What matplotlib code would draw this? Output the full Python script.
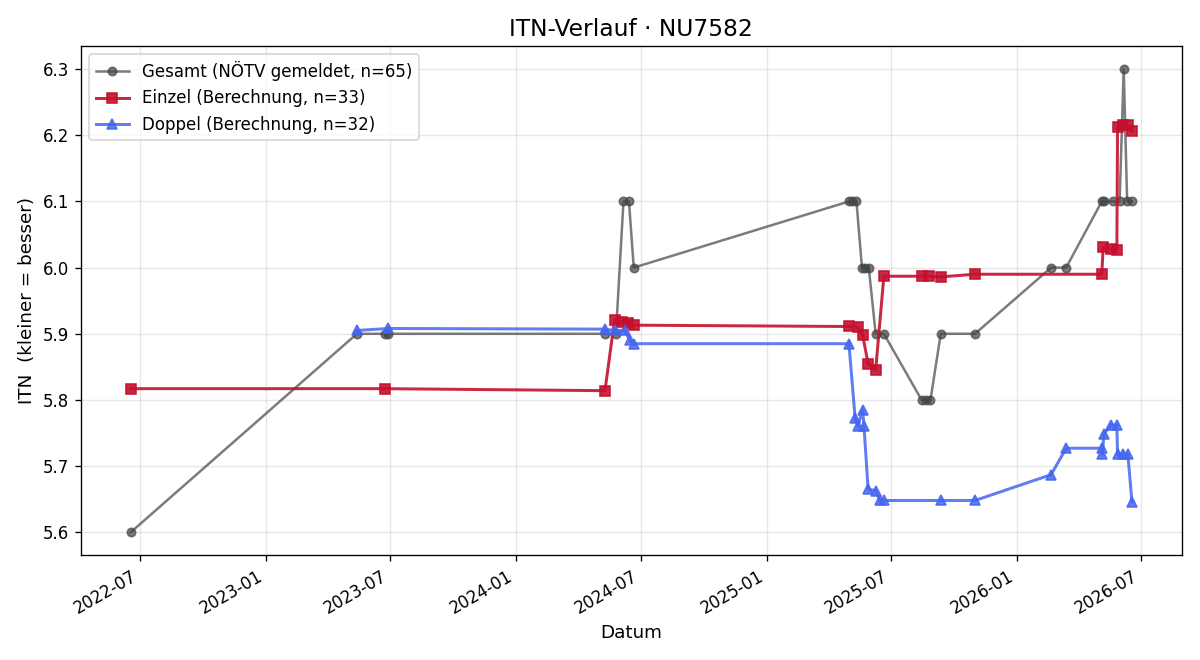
import matplotlib
matplotlib.use("Agg")
import matplotlib.pyplot as plt
import matplotlib.dates as mdates
import pandas as pd

# Gesamt (NÖTV gemeldet)
gesamt_dates = ["2022-06-18", "2023-05-14", "2023-06-24", "2023-06-29", "2024-05-10",
                "2024-05-26", "2024-06-06", "2024-06-14", "2024-06-21", "2025-05-01",
                "2025-05-05", "2025-05-12", "2025-05-20", "2025-05-25", "2025-05-30",
                "2025-06-09", "2025-06-21", "2025-08-15", "2025-08-22", "2025-08-28",
                "2025-09-12", "2025-11-01", "2026-02-20", "2026-03-14", "2026-05-05",
                "2026-05-08", "2026-05-21", "2026-05-31", "2026-06-06", "2026-06-11",
                "2026-06-18"]
gesamt_itn = [5.6, 5.9, 5.9, 5.9, 5.9,
              5.9, 6.1, 6.1, 6.0, 6.1,
              6.1, 6.1, 6.0, 6.0, 6.0,
              5.9, 5.9, 5.8, 5.8, 5.8,
              5.9, 5.9, 6.0, 6.0, 6.1,
              6.1, 6.1, 6.1, 6.3, 6.1,
              6.1]

# Einzel (Berechnung)
einzel_dates = ["2022-06-18", "2023-06-24", "2024-05-10", "2024-05-24", "2024-06-04",
                "2024-06-12", "2024-06-21", "2025-05-01", "2025-05-14", "2025-05-21",
                "2025-05-29", "2025-06-09", "2025-06-21", "2025-08-15", "2025-08-26",
                "2025-09-12", "2025-11-01", "2026-05-05", "2026-05-07", "2026-05-18",
                "2026-05-27", "2026-05-28", "2026-06-05", "2026-06-12", "2026-06-18"]
einzel_itn = [5.817, 5.817, 5.814, 5.921, 5.918,
              5.916, 5.913, 5.911, 5.910, 5.898,
              5.855, 5.845, 5.987, 5.987, 5.987,
              5.986, 5.990, 5.990, 6.031, 6.028,
              6.027, 6.212, 6.215, 6.215, 6.206]

# Doppel (Berechnung)
doppel_dates = ["2023-05-14", "2023-06-29", "2024-05-10", "2024-05-24", "2024-06-08",
                "2024-06-15", "2024-06-21", "2025-05-01", "2025-05-10", "2025-05-14",
                "2025-05-21", "2025-05-23", "2025-05-29", "2025-06-09", "2025-06-15",
                "2025-06-21", "2025-09-12", "2025-11-01", "2026-02-20", "2026-03-14",
                "2026-05-05", "2026-05-06", "2026-05-08", "2026-05-18", "2026-05-27",
                "2026-05-28", "2026-06-05", "2026-06-12", "2026-06-18"]
doppel_itn = [5.905, 5.908, 5.907, 5.905, 5.905,
              5.890, 5.885, 5.885, 5.773, 5.760,
              5.785, 5.760, 5.665, 5.663, 5.648,
              5.648, 5.648, 5.648, 5.687, 5.727,
              5.727, 5.718, 5.748, 5.762, 5.762,
              5.718, 5.718, 5.718, 5.646]

fig, ax = plt.subplots(figsize=(10, 5.5), dpi=120)

ax.plot(pd.to_datetime(gesamt_dates), gesamt_itn, color="#444444", alpha=0.7,
        marker="o", markersize=5, linewidth=1.5, label="Gesamt (NÖTV gemeldet, n=65)")
ax.plot(pd.to_datetime(einzel_dates), einzel_itn, color="#c4102e", alpha=0.9,
        marker="s", markersize=6, linewidth=1.8, label="Einzel (Berechnung, n=33)")
ax.plot(pd.to_datetime(doppel_dates), doppel_itn, color="#4466f0", alpha=0.85,
        marker="^", markersize=6, linewidth=1.8, label="Doppel (Berechnung, n=32)")

ax.set_title("ITN-Verlauf · NU7582", fontsize=14)
ax.set_xlabel("Datum", fontsize=11)
ax.set_ylabel("ITN  (kleiner = besser)", fontsize=11)
ax.grid(True, alpha=0.3)
ax.legend(loc="upper left", fontsize=10)

ax.xaxis.set_major_locator(mdates.MonthLocator(bymonth=[1, 7]))
ax.xaxis.set_major_formatter(mdates.DateFormatter("%Y-%m"))
fig.autofmt_xdate()

fig.tight_layout()
fig.savefig("out.png")
